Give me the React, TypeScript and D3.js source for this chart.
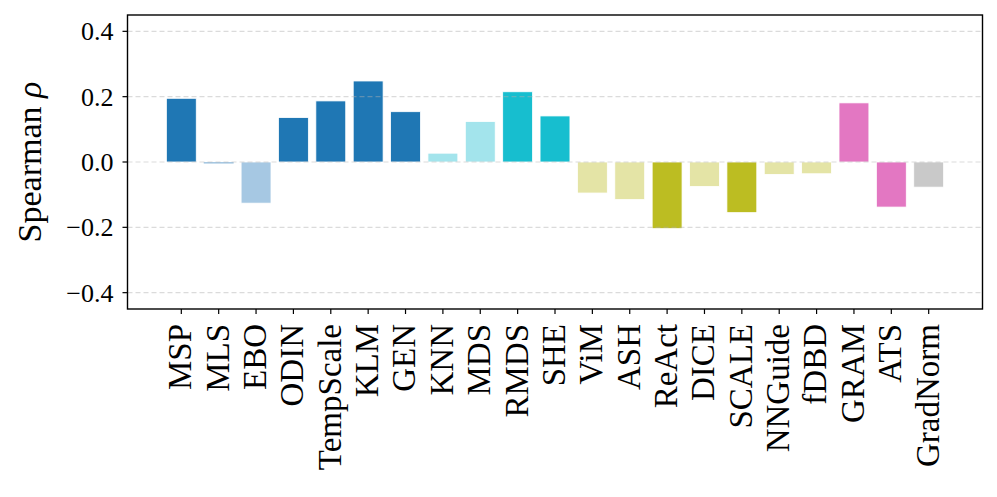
import { useEffect, useRef } from "react";
import * as d3 from "d3";

const METHODS = [
  "MSP", "MLS", "EBO", "ODIN", "TempScale", "KLM", "GEN", "KNN", "MDS", "RMDS", "SHE",
  "ViM", "ASH", "ReAct", "DICE", "SCALE", "NNGuide", "fDBD", "GRAM", "ATS", "GradNorm",
];
const RHO = [
  0.195, -0.003, -0.126, 0.136, 0.187, 0.248, 0.154, 0.027, 0.124, 0.215, 0.141,
  -0.095, -0.115, -0.204, -0.075, -0.155, -0.038, -0.036, 0.181, -0.138, -0.077,
];
const COLORS = [
  "#1f77b4", "#a6c8e3", "#a6c8e3", "#1f77b4", "#1f77b4", "#1f77b4", "#1f77b4", "#a3e4ec", "#a3e4ec", "#17becf", "#17becf",
  "#e4e4a6", "#e4e4a6", "#bcbd22", "#e4e4a6", "#bcbd22", "#e4e4a6", "#e4e4a6", "#e377c2", "#e377c2", "#c9c9c9",
];
const Y_TICKS = [-0.4, -0.2, 0.0, 0.2, 0.4];

const W = 997;
const H = 497;
const M = { left: 127.5, right: 14.5, top: 15, bottom: 188 };
const FONT = "'Liberation Serif', 'DejaVu Serif', serif";

export default function App() {
  const ref = useRef<SVGSVGElement | null>(null);

  useEffect(() => {
    const svg = d3.select(ref.current);
    svg.selectAll("*").remove();

    const x0 = M.left, x1 = W - M.right;
    const yTop = M.top, yBot = H - M.bottom;

    const x = d3.scaleLinear().domain([-1.44, METHODS.length - 1 + 1.44]).range([x0, x1]);
    const y = d3.scaleLinear().domain([-0.45, 0.45]).range([yBot, yTop]);
    const bw = (x(1) - x(0)) * 0.8;

    // bars
    svg.append("g")
      .selectAll("rect")
      .data(RHO)
      .join("rect")
      .attr("x", (_, i) => x(i) - bw / 2)
      .attr("width", bw)
      .attr("y", (v) => y(Math.max(0, v)))
      .attr("height", (v) => Math.max(1.6, Math.abs(y(v) - y(0))))
      .attr("fill", (_, i) => COLORS[i])
      .attr("stroke", "#fff")
      .attr("stroke-width", (v) => (Math.abs(v) < 0.01 ? 0 : 0.8));

    // grid on top
    svg.append("g")
      .selectAll("line")
      .data(Y_TICKS)
      .join("line")
      .attr("x1", x0).attr("x2", x1)
      .attr("y1", (d) => y(d)).attr("y2", (d) => y(d))
      .attr("stroke", "#b0b0b0")
      .attr("stroke-opacity", 0.45)
      .attr("stroke-width", 1.2)
      .attr("stroke-dasharray", "5,3");

    // axes frame
    svg.append("rect")
      .attr("x", x0).attr("y", yTop)
      .attr("width", x1 - x0).attr("height", yBot - yTop)
      .attr("fill", "none").attr("stroke", "#000").attr("stroke-width", 1.4);

    // y ticks
    const yt = svg.append("g");
    Y_TICKS.forEach((t) => {
      yt.append("line")
        .attr("x1", x0 - 5).attr("x2", x0)
        .attr("y1", y(t)).attr("y2", y(t))
        .attr("stroke", "#000").attr("stroke-width", 1.2);
      yt.append("text")
        .attr("x", x0 - 14).attr("y", y(t))
        .attr("dy", "0.35em")
        .attr("text-anchor", "end")
        .attr("font-family", FONT)
        .attr("font-size", 26)
        .text(t < 0 ? `\u2212${Math.abs(t).toFixed(1)}` : t.toFixed(1));
    });

    // x ticks + labels
    const xt = svg.append("g");
    METHODS.forEach((m, i) => {
      xt.append("line")
        .attr("x1", x(i)).attr("x2", x(i))
        .attr("y1", yBot).attr("y2", yBot + 5)
        .attr("stroke", "#000").attr("stroke-width", 1.2);
      xt.append("text")
        .attr("transform", `translate(${x(i)},${yBot + 15}) rotate(-90)`)
        .attr("dy", "0.3em")
        .attr("text-anchor", "end")
        .attr("font-family", FONT)
        .attr("font-size", 33)
        .text(m);
    });

    // y label
    const yl = svg.append("text")
      .attr("transform", `translate(41,${(yTop + yBot) / 2}) rotate(-90)`)
      .attr("text-anchor", "middle")
      .attr("font-family", FONT)
      .attr("font-size", 34);
    yl.append("tspan").text("Spearman ");
    yl.append("tspan").attr("font-style", "italic").text("\u03C1");
  }, []);

  return (
    <svg
      ref={ref}
      width={W}
      height={H}
      style={{ position: "absolute", left: 0, top: 0, background: "#fff" }}
    />
  );
}
